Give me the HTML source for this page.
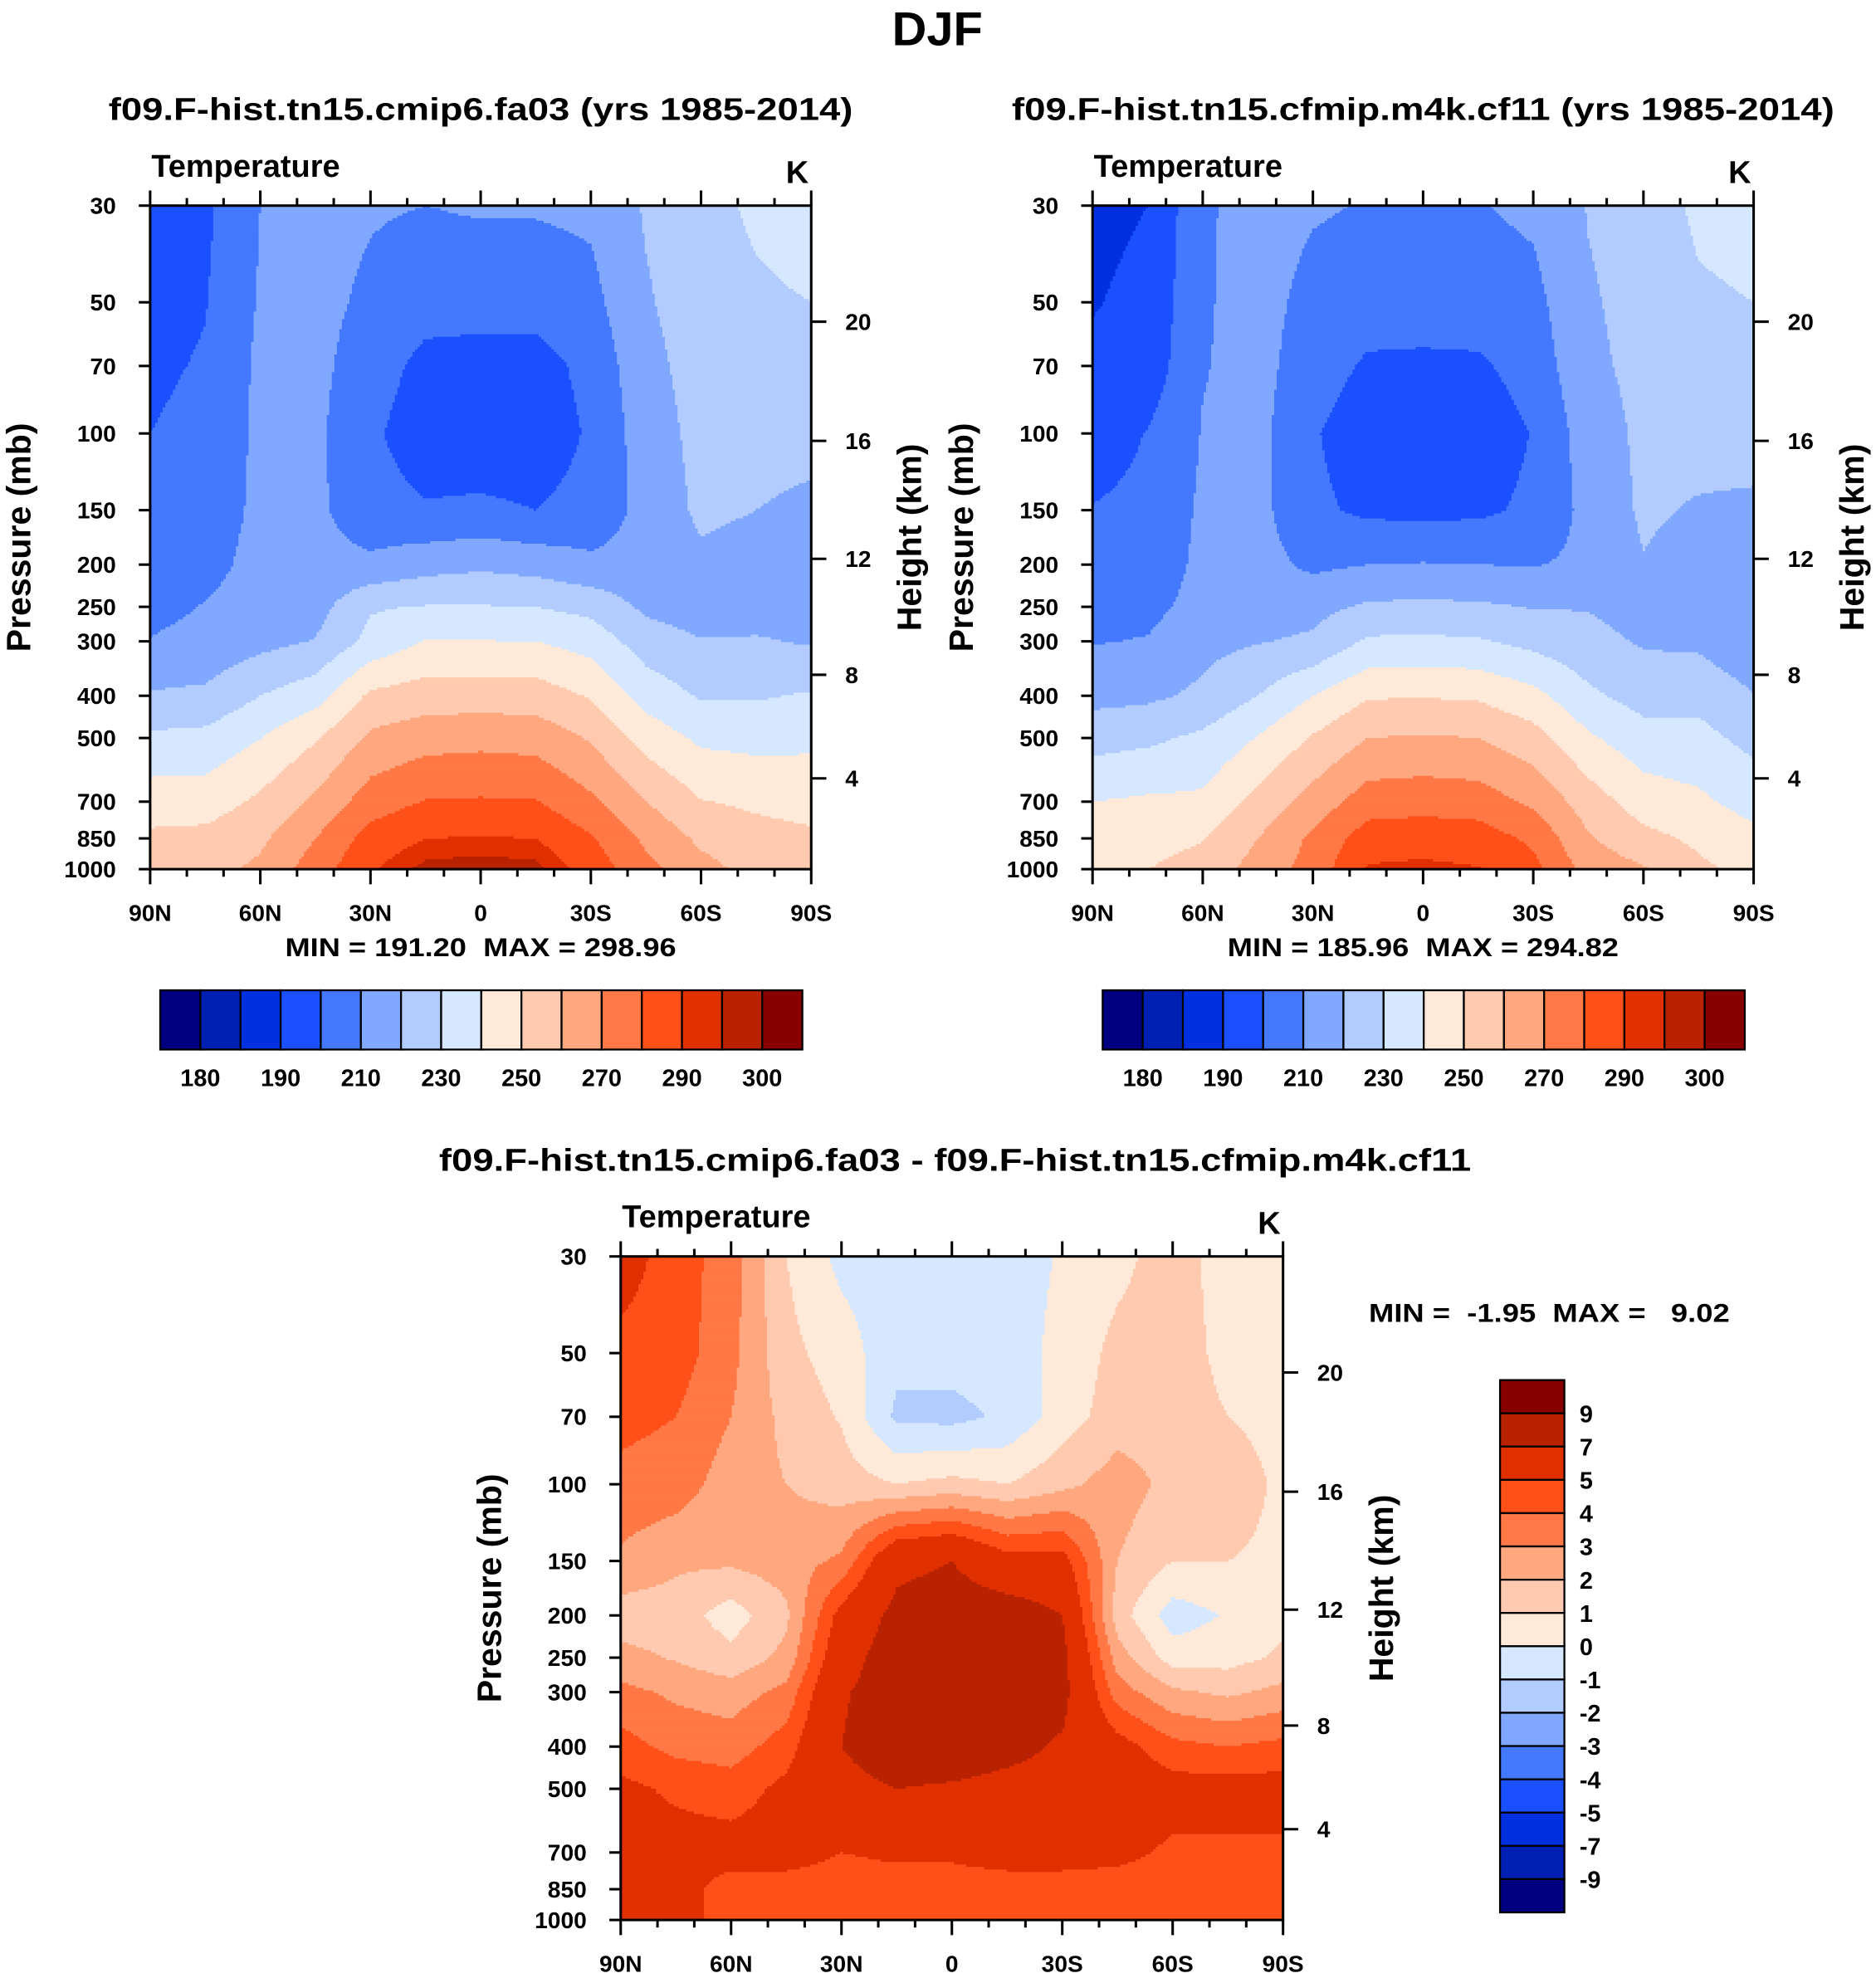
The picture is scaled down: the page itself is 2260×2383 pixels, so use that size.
<!DOCTYPE html>
<html>
<head>
<meta charset="utf-8">
<style>
html,body{margin:0;padding:0;background:#fff;}
svg{display:block;}
text{font-family:"Liberation Sans",Arial,sans-serif;font-weight:bold;fill:#000;white-space:pre;}
</style>
</head>
<body>
<svg id="fig" xmlns="http://www.w3.org/2000/svg" width="2260" height="2383" viewBox="0 0 1487 1568" preserveAspectRatio="none">
  <rect x="0" y="0" width="1487" height="1568" fill="#fff"/>
  <text x="743" y="36" text-anchor="middle" font-size="38">DJF</text>

  <text x="381" y="95" text-anchor="middle" font-size="25" textLength="590" lengthAdjust="spacingAndGlyphs">f09.F-hist.tn15.cmip6.fa03 (yrs 1985-2014)</text>
  <text x="1128" y="95" text-anchor="middle" font-size="25" textLength="652" lengthAdjust="spacingAndGlyphs">f09.F-hist.tn15.cfmip.m4k.cf11 (yrs 1985-2014)</text>
  <text x="757" y="928" text-anchor="middle" font-size="25" textLength="818" lengthAdjust="spacingAndGlyphs">f09.F-hist.tn15.cmip6.fa03 - f09.F-hist.tn15.cfmip.m4k.cf11</text>

  <text x="381" y="758" text-anchor="middle" font-size="21" textLength="310" lengthAdjust="spacingAndGlyphs">MIN = 191.20  MAX = 298.96</text>
  <text x="1128" y="758" text-anchor="middle" font-size="21" textLength="310" lengthAdjust="spacingAndGlyphs">MIN = 185.96  MAX = 294.82</text>
  <text x="1085" y="1048" font-size="21" textLength="286" lengthAdjust="spacingAndGlyphs">MIN =  -1.95  MAX =   9.02</text>

  <g id="layer"></g>
</svg>
<script>
const lats=[90,75,60,45,30,15,0,-15,-30,-45,-60,-75,-90];
const plevs=[30,50,70,100,150,200,250,300,400,500,700,850,1000];

const t1=[
[195,198,210,214,211,210,211,211,212,221,226,232,236],
[196,199.5,211,213,208,204,204,204,207,219,225,228,230],
[198,201,212,212.5,205,197,196,196,203,217,224,226,227],
[200,203,212,212,202,194,193,193,201.5,215,223,223.5,223],
[203,205,212,212,204,201,202,200,204,213,222,220,218],
[205,207,213,213,212,216,218,216,212,213,218,216,215],
[207,210.5,214,216,229,230.5,230.5,230,227,218,215,215,214],
[210.5,213,217,220.5,233,240.5,240.2,240,236,225,220.5,221,219],
[221,222,230,236,252,255,255,255,249,236,229,229,231],
[232,233,239.8,249,262,266,267,266,259,246,238,237,238],
[245,245,252,262,275,280.5,281,280.5,272,260,250.5,248,246],
[252,253,258,270,284,290,290.5,290,281,268,258,254,252],
[256,257,262,275,289,297,298.5,297,286,273,263,257,255]
];
const t2=[
[188,190,208.5,214,211,209.5,209,209.5,212,220.5,224,232,234],
[189.5,192,209,213.5,207,205,205,205,207,219,223,228.5,230],
[191.5,194,209.5,213,205,198.5,198,198.5,204,218,222.5,226,228.5],
[194,200.5,210.5,213,201,194,193,194,200.5,215,222,224,224.5],
[200.5,203,211.5,213,202,198,197.5,198,202,213,221.5,219,218],
[204,205,212,213.5,208,210,210.5,210,209.5,212,219.5,216,215],
[207,207.5,213,215,217,221.5,222,221.5,219.5,219.5,216,214.5,213.5],
[209.5,210.5,217,219.5,221.5,231.5,232,231,227,223,219,218,212],
[217,218,222,230,240,249,249.5,248.5,243,232,226,227,220.5],
[226,228,232,240.5,251,260,261,260,254,241.5,234,233,227],
[240,241.5,242,253,264,275,276,275,268,255,245,242,236],
[244,246,249.5,260,272,285,286,285,278,261,253,248,243],
[247,250,254,264,274,291,292,290.5,283,266,261,252,247]
];
const diff=[
[5.5,4.5,3.5,1.0,-0.3,-0.5,-0.5,-0.5,0.1,0.7,1.5,0.5,0.5],
[4.7,4.5,3.3,1.3,0.5,-0.7,-0.6,-0.5,0.3,1.3,1.5,0.7,0.6],
[4.3,4.0,3.0,1.7,0.9,-1.2,-1.3,-0.8,0.5,1.5,1.5,1.0,0.7],
[3.7,3.5,2.5,2.0,1.5,1.0,1.3,1.0,1.7,2.5,1.7,1.5,0.8],
[2.8,2.2,2.2,2.5,3.2,6.5,7.0,5.5,5.5,2.0,1.0,1.0,0.8],
[1.5,1.5,0.5,1.8,5.5,7.5,8.0,8.0,7.0,1.5,-0.5,0.1,0.7],
[2.3,1.9,1.3,2.3,6.2,8.0,8.5,8.3,7.5,2.5,0.5,0.6,1.2],
[3.3,2.8,2.5,3.3,6.8,8.0,8.5,8.0,7.5,3.5,2.2,1.8,2.3],
[4.4,3.7,3.5,4.5,7.0,8.0,8.0,7.5,6.8,5.5,4.3,4.0,4.3],
[5.3,4.8,4.5,5.3,6.5,7.0,6.8,6.5,6.3,6.0,5.5,5.5,5.5],
[5.5,5.5,5.5,5.5,5.0,5.2,5.2,5.5,5.5,5.3,4.8,4.8,4.8],
[5.5,5.5,4.5,4.5,4.5,4.5,4.5,4.5,4.5,4.5,4.5,4.5,4.5],
[6.0,5.5,4.5,4.5,4.3,4.5,4.5,4.5,4.5,4.5,4.5,4.5,4.5]
];
const absLevels=[180,185,190,200,210,220,230,240,250,260,270,280,290,295,300];
const absLabels=['180','190','210','230','250','270','290','300'];
const diffLevels=[-9,-7,-5,-4,-3,-2,-1,0,1,2,3,4,5,7,9];
const diffLabels=['9','7','5','4','3','2','1','0','-1','-2','-3','-4','-5','-7','-9'];
const palette=['#000080','#0020b4','#0030e0','#1a50ff','#4478ff','#80a8ff','#b2ccff','#d6e8ff','#ffeada','#ffcab0','#ffa880','#ff7845','#ff501a','#e03000','#b82200','#880000'];
const latTicks=[90,60,30,0,-30,-60,-90];
const latTickLabels=['90N','60N','30N','0','30S','60S','90S'];
const kmLabels=['4','8','12','16','20'];
const kmPress=[619,358,194,104,55.4];

const NS='http://www.w3.org/2000/svg';
const layer=document.getElementById('layer');
function mk(tag,attrs,parent){const e=document.createElementNS(NS,tag);for(const k in attrs)e.setAttribute(k,attrs[k]);(parent||layer).appendChild(e);return e;}

function yOf(p,P){return P.y0+P.h*Math.log(p/30)/Math.log(1000/30);}
function xOf(lat,P){return P.x0+P.w*(90-lat)/180;}
function classOf(v,levels){let i=0;while(i<levels.length&&v>=levels[i])i++;return i;}
function sample(grid,lat,p){
  let fi=(90-lat)/15; fi=Math.max(0,Math.min(12,fi));
  let i0=Math.min(11,Math.floor(fi)); let tx=fi-i0;
  let lp=Math.log(p); let j0=0;
  while(j0<plevs.length-2&&lp>Math.log(plevs[j0+1]))j0++;
  let ty=(lp-Math.log(plevs[j0]))/(Math.log(plevs[j0+1])-Math.log(plevs[j0]));
  ty=Math.max(0,Math.min(1,ty));
  const a=grid[j0][i0],b=grid[j0][i0+1],c=grid[j0+1][i0],d=grid[j0+1][i0+1];
  return (a*(1-tx)+b*tx)*(1-ty)+(c*(1-tx)+d*tx)*ty;
}

function drawPanel(P,grid,levels,name){
  const g=mk('g',{});
  
  
  const s=2;
  const nx=Math.ceil(P.w/s);
  const xEnd=P.x0+P.w;
  for(let yy=P.y0;yy<P.y0+P.h;yy+=s){
    const yc=Math.min(yy+s/2,P.y0+P.h);
    const p=30*Math.exp((yc-P.y0)/P.h*Math.log(1000/30));
    let runStart=P.x0,runCls=-1;
    for(let k=0;k<=nx;k++){
      const xx=Math.min(P.x0+k*s,xEnd);
      let cls=-2;
      if(k<nx){
        const lat=90-(Math.min(xx+s/2,xEnd)-P.x0)/P.w*180;
        cls=classOf(sample(grid,lat,p),levels);
      }
      if(cls!==runCls){
        if(runCls>=0){
          const r=mk('rect',{x:runStart,y:yy,width:Math.min(xx+0.4,xEnd)-runStart,height:Math.min(s+0.4,P.y0+P.h-yy),fill:palette[runCls]},g);
          
          
        }
        runStart=xx;runCls=cls;
      }
    }
  }
  const fr=mk('rect',{x:P.x0,y:P.y0,width:P.w,height:P.h,fill:'none',stroke:'#000','stroke-width':2});
  
  
  for(let lat=90;lat>=-90;lat-=10){
    const x=xOf(lat,P);const major=(lat%30===0);const L=major?12:6;
    mk('line',{x1:x,y1:P.y0,x2:x,y2:P.y0-L,stroke:'#000','stroke-width':2});
    mk('line',{x1:x,y1:P.y0+P.h,x2:x,y2:P.y0+P.h+L,stroke:'#000','stroke-width':2});
  }
  latTicks.forEach((lat,i)=>{
    const t=mk('text',{x:xOf(lat,P),y:P.y0+P.h+41,'text-anchor':'middle','font-size':18.5});
    t.textContent=latTickLabels[i];
    
    
  });
  plevs.forEach(p=>{
    const y=yOf(p,P);
    mk('line',{x1:P.x0,y1:y,x2:P.x0-9,y2:y,stroke:'#000','stroke-width':2});
    const t=mk('text',{x:P.x0-27,y:y+6.5,'text-anchor':'end','font-size':18.5});
    t.textContent=String(p);
    
    
  });
  kmPress.forEach((p,i)=>{
    const y=yOf(p,P);
    mk('line',{x1:P.x0+P.w,y1:y,x2:P.x0+P.w+12,y2:y,stroke:'#000','stroke-width':2});
    const t=mk('text',{x:P.x0+P.w+27,y:y+6.5,'font-size':18.5});
    t.textContent=kmLabels[i];
    
    
  });
  const lt=mk('text',{x:P.x0+1,y:P.y0-23,'font-size':25});
  lt.textContent='Temperature';
  
  
  const ku=mk('text',{x:P.x0+P.w-2,y:P.y0-18,'text-anchor':'end','font-size':25});
  ku.textContent='K';
  
  
  const cy=P.y0+P.h/2;
  const pt=mk('text',{x:0,y:0,'text-anchor':'middle','font-size':27,transform:`translate(${P.x0-95},${cy}) rotate(-90)`});
  pt.textContent='Pressure (mb)';
  
  
  const ht=mk('text',{x:0,y:0,'text-anchor':'middle','font-size':27,transform:`translate(${P.x0+P.w+87},${cy}) rotate(-90)`});
  ht.textContent='Height (km)';
  
  
}

function hColorbar(x0,y0,w,h,name){
  const g=mk('g',{});
  
  
  const bw=w/palette.length;
  palette.forEach((c,i)=>{
    const r=mk('rect',{x:x0+i*bw,y:y0,width:bw,height:h,fill:c,stroke:'#000','stroke-width':1.5},g);
    
    
  });
  absLabels.forEach((lab,k)=>{
    const t=mk('text',{x:x0+(2*k+1)*bw,y:y0+76,'text-anchor':'middle','font-size':19},g);
    t.textContent=lab;
    
    
  });
}
function vColorbar(x0,y0,w,h,name){
  const g=mk('g',{});
  
  
  const bh=h/palette.length;
  palette.slice().reverse().forEach((c,i)=>{
    const r=mk('rect',{x:x0,y:y0+i*bh,width:w,height:bh,fill:c,stroke:'#000','stroke-width':1.5},g);
    
    
  });
  diffLabels.forEach((lab,k)=>{
    const t=mk('text',{x:x0+w+12,y:y0+(k+1)*bh+7,'font-size':19},g);
    t.textContent=lab;
    
    
  });
}

const P1={x0:119,y0:163,w:524,h:526};
const P2={x0:866,y0:163,w:524,h:526};
const P3={x0:492,y0:996,w:525,h:526};
drawPanel(P1,t1,absLevels,'panel1');
drawPanel(P2,t2,absLevels,'panel2');
drawPanel(P3,diff,diffLevels,'diff-panel');
hColorbar(127,785,509,47,'panel1-colorbar');
hColorbar(874,785,509,47,'panel2-colorbar');
vColorbar(1189,1094,51,422,'diff-colorbar');
</script>
</body>
</html>
